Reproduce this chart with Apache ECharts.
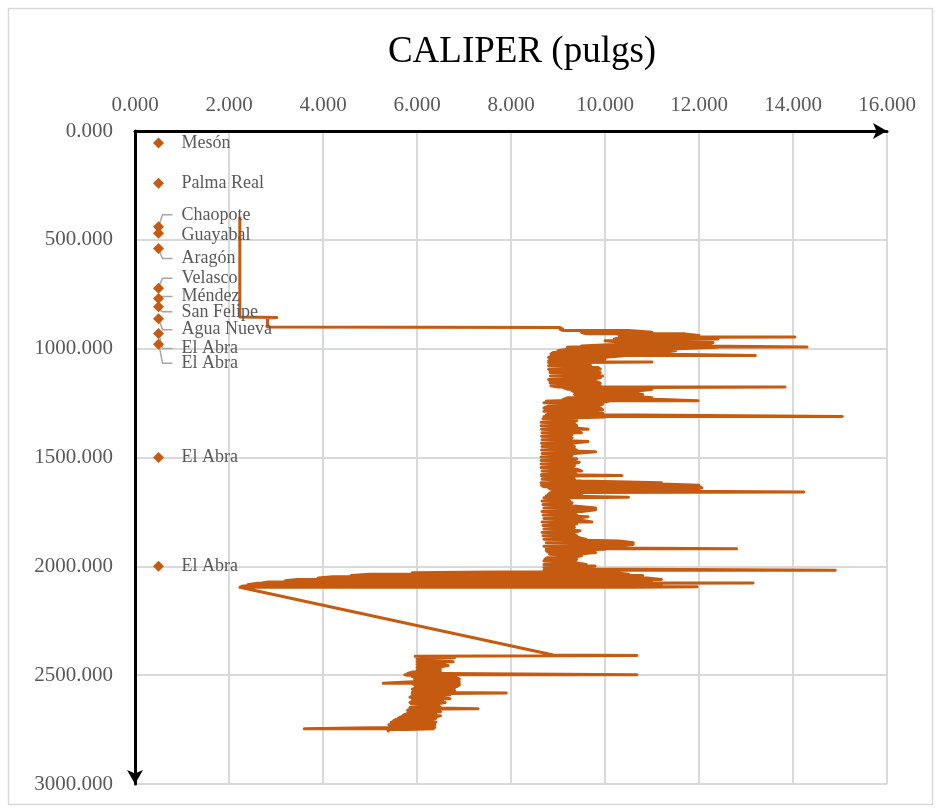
<!DOCTYPE html>
<html>
<head>
<meta charset="utf-8">
<script src="https://cdn.jsdelivr.net/npm/echarts@6/dist/echarts.min.js"></script>
<style>html,body{margin:0;padding:0;background:#fff}#c{width:939px;height:810px}</style>
</head>
<body>
<div id="c"></div>
<script>
// ---- Data ----
const xTicks = [0, 2, 4, 6, 8, 10, 12, 14, 16];
const yTicks = [0, 500, 1000, 1500, 2000, 2500, 3000];

// Formation tops (plotted at caliper 0.5)
const formationNames = ['Mesón','Palma Real','Chaopote','Guayabal','Aragón','Velasco','Méndez','San Felipe','Agua Nueva','El Abra','El Abra','El Abra','El Abra'];
const formationDepth = [55, 240, 440, 470, 540, 722, 770, 808, 862, 930, 980, 1500, 2000];
const formationCaliper = [0.5,0.5,0.5,0.5,0.5,0.5,0.5,0.5,0.5,0.5,0.5,0.5,0.5];

// Caliper log: upper isolated path
const topDepth   = [394, 855, 857, 859, 900];
const topCaliper = [2.23, 2.23, 3.02, 2.82, 2.82];

// Caliper log: upper dense interval (depth, min caliper, max caliper per sample row)
const upperDepth = [903,910,916,925,932,940,946,948,956,964,972,980,988,992,994,1002,1010,1018,1025,1031,1033,1040,1048,1056,1061,1063,1070,1078,1086,1094,1102,1110,1118,1126,1134,1142,1150,1158,1164,1170,1176,1178,1186,1194,1202,1210,1218,1226,1234,1239,1241,1248,1256,1264,1272,1280,1288,1296,1304,1312,1314,1322,1330,1338,1346,1354,1362,1370,1378,1386,1394,1402,1410,1418,1426,1434,1442,1450,1458,1466,1474,1482,1490,1498,1506,1514,1522,1530,1538,1546,1554,1562,1570,1578,1583,1585,1592,1600,1608,1616,1622,1628,1634,1640,1646,1652,1659,1661,1668,1676,1683,1685,1692,1700,1708,1716,1724,1732,1740,1748,1756,1764,1772,1780,1788,1796,1804,1812,1820,1828,1836,1844,1852,1860,1868,1876,1884,1892,1900,1908,1916,1919,1921,1928,1936,1944,1952,1960,1968,1976,1984,1992,1998,2005,2012,2018,2020,2026,2030,2036,2042,2048,2054,2060,2066,2072,2076,2078,2084,2090,2094,2096];
const upperMin   = [2.85,9.04,9.1,9.5,9.6,10.3,10.5,10.4,10.2,10.0,10.4,10.3,9.5,9.3,9.2,9.2,9.0,8.9,8.85,8.9,8.85,8.8,8.85,8.8,8.85,8.8,8.85,8.8,8.82,8.8,8.85,8.83,8.8,8.84,8.82,8.8,8.85,8.83,8.85,8.85,9.0,9.1,9.2,9.3,9.4,9.35,9.4,9.2,9.1,9.0,8.75,8.7,8.72,8.8,8.7,8.75,8.7,8.85,8.75,8.7,8.7,8.68,8.65,8.64,8.66,8.64,8.66,8.65,8.64,8.66,8.64,8.65,8.64,8.66,8.64,8.65,8.64,8.66,8.64,8.65,8.64,8.66,8.65,8.64,8.66,8.64,8.65,8.64,8.66,8.64,8.65,8.66,8.64,8.65,8.66,8.65,8.64,8.66,8.65,8.64,8.66,8.65,8.7,8.8,8.85,8.9,8.9,8.85,8.8,8.75,8.72,8.7,8.68,8.66,8.7,8.68,8.66,8.7,8.68,8.66,8.7,8.68,8.66,8.7,8.68,8.66,8.7,8.68,8.66,8.7,8.68,8.66,8.7,8.68,8.66,8.7,8.72,8.75,8.72,8.7,8.72,8.75,8.72,8.75,8.8,8.82,8.8,8.78,8.72,8.7,8.68,8.7,8.72,8.7,8.68,8.7,8.72,7.6,5.9,5.0,4.6,4.2,3.9,3.44,3.2,2.84,2.7,2.6,2.4,2.3,2.25,2.23];
const upperMax   = [9.04,9.1,10.5,11.0,11.7,12.0,14.04,12.3,12.4,12.4,12.3,12.2,12.0,14.3,12.4,11.4,11.5,11.2,10.9,13.2,10.4,10.0,10.0,9.6,11.0,9.5,9.6,9.7,9.85,9.9,9.75,9.9,9.8,9.95,9.9,9.7,9.8,9.9,9.7,9.9,13.83,10.8,11.0,10.7,10.5,10.8,10.6,11.0,11.2,11.98,10.1,9.85,9.95,9.7,9.9,9.95,9.6,9.95,9.9,15.05,10.0,10.0,9.4,9.3,9.35,9.4,9.3,9.64,9.35,9.5,9.3,9.25,9.3,9.2,9.64,9.3,9.25,9.35,9.3,9.4,9.8,9.35,9.3,9.25,9.4,9.3,9.45,9.3,9.35,9.25,9.4,9.5,9.3,9.4,10.36,9.4,9.3,9.35,9.5,11.2,11.2,12.0,12.0,12.06,11.8,12.0,14.23,9.6,9.5,9.3,10.5,9.3,9.2,9.25,9.3,9.2,9.4,9.8,9.8,9.5,9.3,9.4,9.64,9.3,9.5,9.72,9.4,9.3,9.35,9.3,9.47,9.35,9.3,9.4,9.45,9.6,10.3,10.6,10.6,10.2,10.0,12.8,10.0,10.0,9.8,9.4,9.5,9.3,9.4,9.3,9.4,9.6,9.79,9.3,9.5,14.9,9.7,9.8,10.2,10.5,10.8,10.7,10.9,11.2,10.8,11.0,13.15,10.9,11.2,10.8,11.96,10.6];

// Caliper log: return to gauge and jump to lower interval
const gapDepth   = [2100, 2407];
const gapCaliper = [2.23, 8.9];

// Caliper log: lower dense interval
const lowerDepth = [2410,2413,2420,2426,2432,2438,2444,2450,2456,2462,2468,2474,2480,2486,2492,2498,2500,2506,2512,2518,2524,2530,2537,2539,2545,2552,2558,2564,2570,2578,2582,2584,2590,2596,2602,2608,2614,2620,2626,2632,2640,2648,2654,2656,2662,2668,2674,2680,2686,2692,2698,2704,2710,2716,2722,2728,2734,2740,2746,2750];
const lowerMin   = [8.9,5.96,5.96,6.0,5.98,6.0,6.02,6.0,6.04,6.0,6.02,6.0,5.98,5.9,5.8,5.74,5.8,5.9,6.0,5.95,6.0,5.9,5.28,5.9,5.96,6.0,5.95,5.9,5.95,5.9,5.92,5.9,5.88,5.9,5.85,5.9,5.88,5.9,5.85,5.88,5.9,5.85,5.88,5.85,5.8,5.85,5.8,5.75,5.7,5.65,5.6,5.55,5.5,5.45,5.45,5.4,5.42,5.4,3.6,5.4];
const lowerMax   = [10.68,10.68,6.8,6.77,6.5,6.77,6.4,6.6,6.66,6.5,6.4,6.5,6.4,6.5,6.6,10.68,6.7,6.8,6.85,6.9,6.8,6.9,6.85,6.9,6.9,6.85,6.8,6.7,6.8,6.6,7.9,6.6,6.7,6.5,6.6,6.7,6.55,6.5,6.6,6.4,6.45,6.5,7.3,6.45,6.4,6.5,6.35,6.4,6.5,6.4,6.4,6.3,6.35,6.4,6.3,6.38,6.3,6.38,6.35,5.8];
const endDepth   = [2762];
const endCaliper = [5.38];

// ---- Build the line path (ordered [caliper, depth] points) ----
function pathPoints(depths, vals) {
  return depths.map((d, i) => [vals[i], d]);
}
function rowPoints(depths, mins, maxs) {
  const out = [];
  depths.forEach((d, i) => {
    if (i % 2 === 0) { out.push([mins[i], d]); out.push([maxs[i], d]); }
    else { out.push([maxs[i], d]); out.push([mins[i], d]); }
  });
  return out;
}
const caliperPath = [].concat(
  pathPoints(topDepth, topCaliper),
  rowPoints(upperDepth, upperMin, upperMax),
  pathPoints(gapDepth, gapCaliper),
  rowPoints(lowerDepth, lowerMin, lowerMax),
  pathPoints(endDepth, endCaliper)
);

// label layout (style, not data): vertical offsets in px and whether a leader line is drawn
const labelDy = [0, 0, -12, 2, 10, -10, -2, 5, 11, 15, 19, 0, 0];
const showLeader = [false, false, true, false, true, true, true, true, true, true, true, false, false];

const formationData = formationNames.map((n, i) => ({
  value: [formationCaliper[i], formationDepth[i]],
  name: n
}));

const ORANGE = '#C55A11';
const SERIF = '"Liberation Serif", "Times New Roman", serif';

const chart = echarts.init(document.getElementById('c'), null, {renderer: 'canvas'});
chart.setOption({
  animation: false,
  backgroundColor: '#ffffff',
  graphic: [
    {type: 'rect', shape: {x: 8.5, y: 8.5, width: 924, height: 796}, style: {fill: 'none', stroke: '#d9d9d9', lineWidth: 1.5}, z: -10},
    {type: 'text', x: 522, y: 52, style: {text: 'CALIPER (pulgs)', font: '37px ' + SERIF, fill: '#000', textAlign: 'center', textVerticalAlign: 'middle'}}
  ],
  grid: {left: 135, top: 131, right: 52, bottom: 26, containLabel: false, outerBoundsMode: 'none'},
  xAxis: {
    type: 'value', position: 'top', min: 0, max: 16, interval: 2,
    axisLine: {show: true, symbol: ['none', 'arrow'], symbolSize: [12, 14], lineStyle: {color: '#000', width: 3}},
    axisTick: {show: false},
    axisLabel: {formatter: v => v.toFixed(3), color: '#595959', fontFamily: SERIF, fontSize: 21, margin: 15},
    splitLine: {show: true, lineStyle: {color: '#d9d9d9', width: 2}}
  },
  yAxis: {
    type: 'value', inverse: true, min: 0, max: 3000, interval: 500,
    axisLine: {show: true, symbol: ['arrow', 'none'], symbolSize: [12, 14], lineStyle: {color: '#000', width: 3}},
    axisTick: {show: false},
    axisLabel: {formatter: v => v.toFixed(3), color: '#595959', fontFamily: SERIF, fontSize: 21, margin: 22},
    splitLine: {show: true, lineStyle: {color: '#d9d9d9', width: 2}}
  },
  series: [
    {
      type: 'line', data: caliperPath, showSymbol: false, symbol: 'none', z: 3,
      lineStyle: {color: ORANGE, width: 3, join: 'round'}
    },
    {
      // elbow leader lines from each formation marker to its shifted label
      type: 'custom', data: formationData, z: 4, silent: true, clip: false,
      renderItem: function (params, api) {
        const i = params.dataIndex;
        if (!showLeader[i]) return null;
        const c = api.coord([api.value(0), api.value(1)]);
        const dy = labelDy[i];
        const s = dy < 0 ? -1 : 1;
        const ly = c[1] + dy;
        return {
          type: 'polyline',
          shape: {points: [[c[0] + 1, c[1] + s * 3], [c[0] + 4, ly], [c[0] + 14, ly]]},
          style: {stroke: '#a6a6a6', lineWidth: 1.5, fill: null}
        };
      }
    },
    {
      type: 'scatter', data: formationData, symbol: 'diamond', symbolSize: 11, z: 5,
      itemStyle: {color: ORANGE, opacity: 1},
      label: {show: true, position: 'right', distance: 18, formatter: p => p.name, color: '#595959', fontFamily: SERIF, fontSize: 18},
      labelLayout: function (p) {
        const dy = labelDy[p.dataIndex];
        const cx = p.rect.x + p.rect.width / 2;
        const cy = p.rect.y + p.rect.height / 2;
        return {x: cx + 23, y: cy + dy, align: 'left', verticalAlign: 'middle'};
      },
      labelLine: {show: false}
    }
  ]
});
</script>
</body>
</html>
